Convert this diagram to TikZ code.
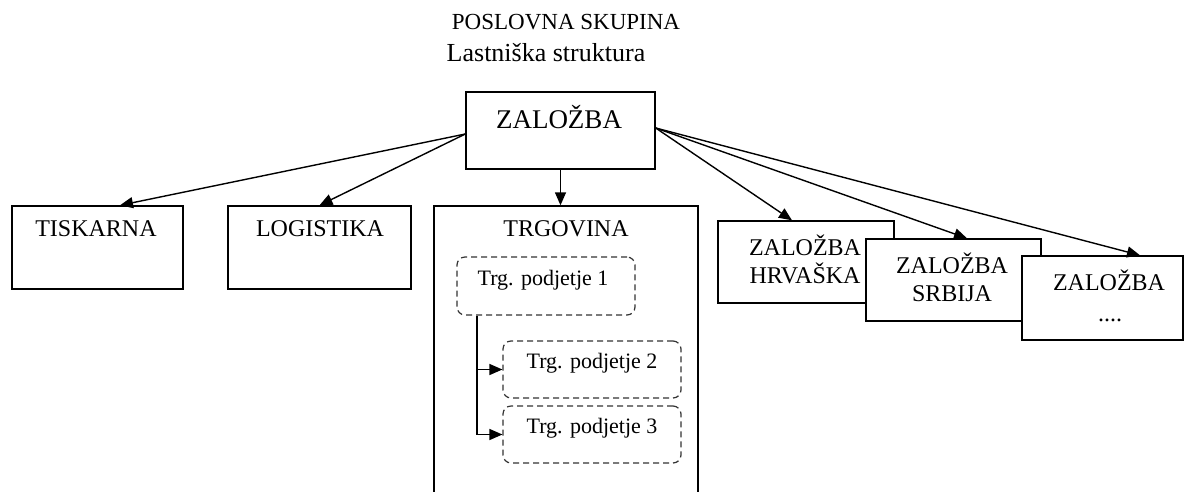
\documentclass[tikz,border=0pt]{standalone}
\usepackage{fontspec}
\setmainfont{Liberation Serif}
\usetikzlibrary{arrows.meta,calc}
\tikzset{
  box/.style={draw, line width=1.4pt, fill=white, rectangle, inner sep=0pt},
  dbox/.style={draw=black!80, line width=1.2pt, dash pattern=on 6pt off 4pt, rounded corners=8pt, rectangle, inner sep=0pt},
  lbl/.style={inner sep=0pt, font=\fontsize{24}{28}\selectfont, align=center},
  slbl/.style={inner sep=0pt, font=\fontsize{22}{26}\selectfont},
  conn/.style={line width=1.4pt, -{Triangle[length=13pt,width=11pt]}},
}
\begin{document}
\begin{tikzpicture}[x=1pt,y=-1pt]
\useasboundingbox (0,0) rectangle (1185,491);
% title
\node[lbl, font=\fontsize{23}{28}\selectfont] (t1title) at (566,22) {POSLOVNA SKUPINA};
\node[lbl, font=\fontsize{26}{30}\selectfont] (t2title) at (546,53) {Lastniška struktura};
% top box
\node[box, minimum width=189pt, minimum height=77pt] (zal) at (560.5,130.5) {};
\node[lbl, font=\fontsize{27}{30}\selectfont] (zallbl) at (559,117) {ZALOŽBA};
% second level
\node[box, minimum width=171pt, minimum height=83pt] (tis) at (97.5,247.5) {};
\node[lbl] (tislbl) at (96,229) {TISKARNA};
\node[box, minimum width=183pt, minimum height=83pt] (log) at (319.5,247.5) {};
\node[lbl] (loglbl) at (320,229) {LOGISTIKA};
\node[box, minimum width=264pt, minimum height=300pt] (trg) at (566,356) {};
\node[lbl] (trglbl) at (566,229) {TRGOVINA};
% inner dashed
\node[dbox, minimum width=178pt, minimum height=58pt] (p1) at (546,286) {};
\node[slbl] (p1lbl) at (543,280) {Trg. podjetje 1};
\node[dbox, minimum width=178pt, minimum height=57pt] (p2) at (592,369.5) {};
\node[slbl] (p2lbl) at (592,363) {Trg. podjetje 2};
\node[dbox, minimum width=178pt, minimum height=57pt] (p3) at (592,434.5) {};
\node[slbl] (p3lbl) at (592,428) {Trg. podjetje 3};
% overlapping boxes
\node[box, minimum width=176pt, minimum height=82pt] (hr) at (806,262) {};
\node[lbl] (hrlbl) at (805,259) {ZALOŽBA\\HRVAŠKA};
\node[box, minimum width=175pt, minimum height=82pt] (sr) at (953.5,280) {};
\node[lbl] (srlbl) at (952,277.5) {ZALOŽBA\\SRBIJA};
\node[box, minimum width=161pt, minimum height=84pt] (dot) at (1102.5,298) {};
\node[lbl] (dotlbl) at (1109,280) {ZALOŽBA};
\node[lbl] (dotdots) at (1110,320) {....};
% connectors
\draw[conn] ([yshift=-3.5pt]zal.west) -- ([xshift=22.5pt]tis.north);
\draw[conn] ([yshift=-3.5pt]zal.west) -- (log.north);
\draw[conn] (zal.south) -- (zal.south |- trg.north);
\draw[conn] ([yshift=2.5pt]zal.east) -- ([xshift=-14pt]hr.north);
\draw[conn] ([yshift=2.5pt]zal.east) -- ([xshift=13.5pt]sr.north);
\draw[conn] ([yshift=2.5pt]zal.east) -- ([xshift=37.5pt]dot.north);
\draw[conn] ([xshift=-69pt]p1.south) |- (p2.west);
\draw[conn] ([xshift=-69pt]p1.south) |- (p3.west);
\end{tikzpicture}
\end{document}
